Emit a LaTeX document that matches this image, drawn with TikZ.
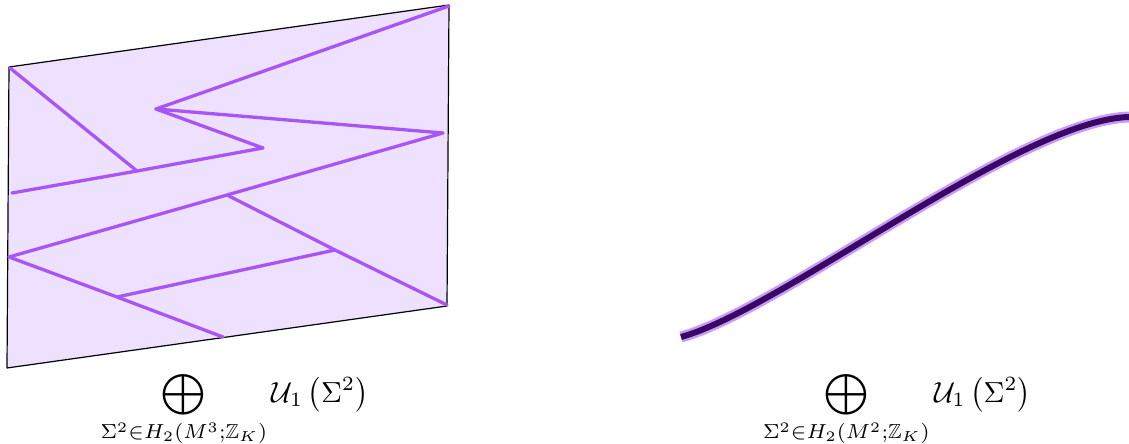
\documentclass[tikz,border=0pt]{standalone}
\usepackage{amssymb}
\definecolor{sheetfill}{HTML}{EEE0FF}
\definecolor{netline}{HTML}{A855F7}
\definecolor{curvedark}{HTML}{3B0764}
\definecolor{curvelight}{HTML}{C99BF8}
\tikzset{
  net/.style={draw=netline, line width=3.3pt, line cap=round, line join=round},
  sheet/.style={fill=sheetfill, draw=black, line width=1.2pt, line join=round},
  lbl/.style={inner sep=0pt, anchor=center}
}
\newcommand{\bigformula}[1]{\scalebox{2.9}{$\displaystyle\bigoplus_{\Sigma^2\in H_2(M^{#1};\mathbb{Z}_K)}\mathcal{U}_1\left(\Sigma^2\right)$}}
\begin{document}
\begin{tikzpicture}[x=1pt,y=-1pt]
\useasboundingbox (0,0) rectangle (1129,444);
% sheet
\coordinate (TL) at (9,67);
\coordinate (TR) at (449,5);
\coordinate (BR) at (447,306);
\coordinate (BL) at (7,368);
\path[sheet] (TL) -- (TR) -- (BR) -- (BL) -- cycle;
% network vertices
\coordinate (a) at (10,68);
\coordinate (b) at (137,171);
\coordinate (c) at (12,193);
\coordinate (d) at (263,148);
\coordinate (e) at (156,109);
\coordinate (f) at (449,6);
\coordinate (g) at (443,133);
\coordinate (h) at (227,195);
\coordinate (i) at (9,257);
\coordinate (j) at (335,250);
\coordinate (k) at (447,305);
\coordinate (l) at (117,297);
\coordinate (m) at (223,337);
\draw[net] (a) -- (b);
\draw[net] (c) -- (b) -- (d) -- (e) -- (f);
\draw[net] (e) -- (g) -- (h) -- (i);
\draw[net] (h) -- (j) -- (k);
\draw[net] (i) -- (l) -- (m);
\draw[net] (l) -- (j);
% curve
\coordinate (s) at (681,337);
\coordinate (t) at (1129,117);
\draw[curvelight, line width=11pt] (s) .. controls (780,310) and (1020,120) .. (t);
\draw[curvedark, line width=6pt] (s) .. controls (780,310) and (1020,120) .. (t);
% labels
\node[lbl] (L1) at (234.5,409) {\bigformula{3}};
\node[lbl] (L2) at (897,409) {\bigformula{2}};
\end{tikzpicture}
\end{document}
